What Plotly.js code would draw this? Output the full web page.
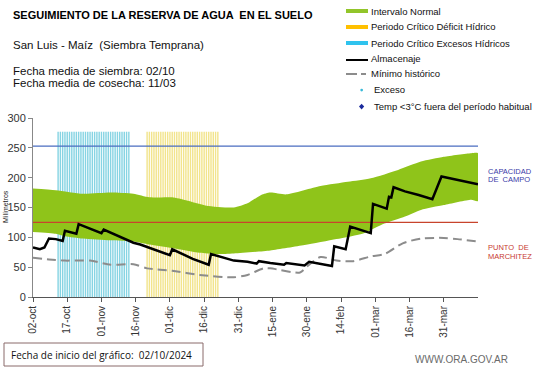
<!DOCTYPE html>
<html>
<head>
<meta charset="utf-8">
<script src="https://cdn.plot.ly/plotly-3.0.1.min.js"></script>
<style>html,body{margin:0;padding:0;background:#fff;}#chart{width:541px;height:368px;}</style>
</head>
<body>
<div id="chart"></div>
<script>
// ---------- DATA ----------
const tickDates = ['2024-10-02','2024-10-17','2024-11-01','2024-11-16','2024-12-01','2024-12-16','2024-12-31','2025-01-15','2025-01-30','2025-02-14','2025-03-01','2025-03-16','2025-03-31'];
const tickLabels = ['02-oct','17-oct','01-nov','16-nov','01-dic','16-dic','31-dic','15-ene','30-ene','14-feb','01-mar','16-mar','31-mar'];

const upperDates = ['2024-10-02','2024-10-12','2024-10-24','2024-11-05','2024-11-15','2024-11-22','2024-12-02','2024-12-08','2024-12-17','2024-12-29','2025-01-04','2025-01-10','2025-01-14','2025-01-21','2025-02-05','2025-02-17','2025-02-27','2025-03-11','2025-03-21','2025-03-31','2025-04-12','2025-04-15'];
const upperValues = [182,179,173,175,173,167,167,162,153,150,157,171,175,172,186,193,199,213,227,235,241,241];

const lowerDates = ['2024-10-02','2024-10-12','2024-10-16','2024-10-24','2024-11-05','2024-11-15','2024-11-22','2024-12-02','2024-12-14','2024-12-21','2024-12-29','2025-01-14','2025-01-29','2025-02-12','2025-02-24','2025-03-05','2025-03-14','2025-03-21','2025-03-31','2025-04-12','2025-04-15'];
const lowerValues = [109,106,102,98,95,93,88,82,74,72,73,78,87,97,107,123,135,146,154,163,161];

const storageDates = ['2024-10-02','2024-10-05','2024-10-07','2024-10-09','2024-10-12','2024-10-15','2024-10-16','2024-10-21','2024-10-22','2024-11-01','2024-11-02','2024-11-15','2024-11-18','2024-11-29','2024-12-01','2024-12-02','2024-12-11','2024-12-18','2024-12-19','2024-12-29','2025-01-04','2025-01-08','2025-01-09','2025-01-14','2025-01-20','2025-01-21','2025-01-29','2025-01-31','2025-02-10','2025-02-11','2025-02-16','2025-02-18','2025-02-27','2025-02-28','2025-03-06','2025-03-07','2025-03-08','2025-03-09','2025-03-14','2025-03-20','2025-03-26','2025-03-30','2025-04-15'];
const storageValues = [83,80,83,98,97,94,111,106,122,107,113,91,88,73,70,80,64,54,72,61,59,56,60,57,54,57,53,59,52,85,80,118,107,156,148,168,167,184,177,171,164,202,189];

const minHistDates = ['2024-10-02','2024-10-09','2024-10-16','2024-10-27','2024-11-05','2024-11-15','2024-11-21','2024-12-02','2024-12-14','2024-12-29','2025-01-04','2025-01-11','2025-01-14','2025-01-27','2025-01-30','2025-02-05','2025-02-12','2025-02-19','2025-02-27','2025-03-05','2025-03-13','2025-03-21','2025-03-31','2025-04-06','2025-04-15'];
const minHistValues = [66,63,61,61,54,55,48,44,37,33,37,48,48,41,51,67,61,60,68,72,90,98,99,97,93];

const fieldCapacity = 253;
const wiltingPoint = 125;
const criticalBarHeight = 277;
const excessPeriod = ['2024-10-13','2024-11-13'];
const deficitPeriod = ['2024-11-21','2024-12-22'];
const axisRange = ['2024-10-02','2025-04-15'];

// ---------- HELPERS ----------
function daysBetween(a, b){ return Math.round((Date.parse(b) - Date.parse(a)) / 86400000); }
function dayList(period){
  const out = [];
  const n = daysBetween(period[0], period[1]);
  for (let i = 0; i <= n; i++) out.push(new Date(Date.parse(period[0]) + i*86400000).toISOString().slice(0,10));
  return out;
}
const L = 33, R = 478, T = 118, B = 297;
const px = v => (v - L) / (R - L);
const py = v => (B - v) / (B - T);

const FONT = 'Liberation Sans, Arial, sans-serif';
const DAY = 86400000;

const excessDays = dayList(excessPeriod);
const deficitDays = dayList(deficitPeriod);

const traces = [
  { type:'bar', x: excessDays, y: excessDays.map(() => criticalBarHeight), width: 0.62*DAY,
    marker:{color:'#86d4e3', line:{width:0}}, hoverinfo:'skip' },
  { type:'bar', x: deficitDays, y: deficitDays.map(() => criticalBarHeight), width: 0.62*DAY,
    marker:{color:'#f2e48c', line:{width:0}}, hoverinfo:'skip' },
  { type:'scatter', mode:'lines', x: upperDates.concat(lowerDates.slice().reverse()),
    y: upperValues.concat(lowerValues.slice().reverse()), fill:'toself', fillcolor:'#8fc41a',
    line:{width:0, shape:'spline', smoothing:0.6}, hoverinfo:'skip' },
  { type:'scatter', mode:'lines', x: axisRange, y:[fieldCapacity, fieldCapacity], line:{color:'#4a6cc0', width:1.2} },
  { type:'scatter', mode:'lines', x: axisRange, y:[wiltingPoint, wiltingPoint], line:{color:'#c8442c', width:1.2} },
  { type:'scatter', mode:'lines', x: minHistDates, y: minHistValues,
    line:{color:'#8c8c8c', width:2, dash:'9px,5px', shape:'spline', smoothing:0.7} },
  { type:'scatter', mode:'lines', x: storageDates, y: storageValues, line:{color:'#000', width:2.5} }
];

const ann = [];
const shapes = [];
function text(t, x, y, size, opts){
  ann.push(Object.assign({text:t, xref:'paper', yref:'paper', x:px(x), y:py(y), xanchor:'left', yanchor:'middle',
    showarrow:false, font:{family:FONT, size:size, color:'#111'}}, opts||{}));
}
text('<b>SEGUIMIENTO DE LA RESERVA DE AGUA  EN EL SUELO</b>', 11, 15, 11, {font:{family:FONT, size:11, color:'#000'}});
text('San Luis - Maíz  (Siembra Temprana)', 11, 45, 11.5);
text('Fecha media de siembra: 02/10', 11, 71, 11.5);
text('Fecha media de cosecha: 11/03', 11, 83, 11.5);

// legend
const legX0 = 346, legX1 = 368, legTX = 369;
function legBar(y, color){
  shapes.push({type:'rect', xref:'paper', yref:'paper', x0:px(legX0), x1:px(legX1), y0:py(y-2), y1:py(y+2), fillcolor:color, line:{width:0}});
}
function legLine(xa, xb, y, color, w){
  shapes.push({type:'line', xref:'paper', yref:'paper', x0:px(xa), x1:px(xb), y0:py(y), y1:py(y), line:{color:color, width:w}});
}
legBar(11, '#92c52a'); text('Intervalo Normal', legTX, 11.5, 9.5);
legBar(27, '#ffc000'); text('Periodo Crítico Déficit Hídrico', legTX, 26.5, 9.5);
legBar(43, '#2fc3ee'); text('Periodo Crítico Excesos Hídricos', legTX, 43, 9.5);
legLine(legX0, legX1, 60, '#000', 2); text('Almacenaje', legTX, 58.3, 9.5);
legLine(legX0, 357, 74, '#8c8c8c', 2); legLine(361, 366, 74, '#8c8c8c', 2); text('Mínimo histórico', legTX, 73.3, 9.5);
shapes.push({type:'circle', xref:'paper', yref:'paper', x0:px(360.3), x1:px(363), y0:py(88.7), y1:py(91.4), fillcolor:'#37b9d8', line:{width:0}});
text('Exceso', 372, 90, 9.5);
shapes.push({type:'path', xref:'paper', yref:'paper',
  path:`M ${px(361.6)} ${py(103.8)} L ${px(364.2)} ${py(106.6)} L ${px(361.6)} ${py(109.4)} L ${px(359)} ${py(106.6)} Z`,
  fillcolor:'#1a2a9c', line:{width:0}});
text('Temp <3°C fuera del período habitual', 372, 106.5, 9.5);

// right labels
const capFont = {family:FONT, size:7.5, color:'#3a3aa8'};
const marFont = {family:FONT, size:7.5, color:'#c83a32'};
text('CAPACIDAD', 486, 171, 7.5, {font:capFont});
text('DE  CAMPO', 486, 179.5, 7.5, {font:capFont});
text('PUNTO  DE', 486, 247, 7.5, {font:marFont});
text('MARCHITEZ', 486, 256, 7.5, {font:marFont});

// y title
ann.push({text:'Milímetros', xref:'paper', yref:'paper', x:px(5), y:py(207), xanchor:'center', yanchor:'middle',
  textangle:-90, showarrow:false, font:{family:FONT, size:7, color:'#222'}});

// bottom box
shapes.push({type:'rect', xref:'paper', yref:'paper', x0:px(4), x1:px(203), y0:py(343), y1:py(366), line:{color:'#8a6a6a', width:1}, fillcolor:'rgba(0,0,0,0)'});
text('Fecha de inicio del gráfico:  02/10/2024', 9, 355, 10.5, {font:{family:'Open Sans, sans-serif', size:10, color:'#111'}});
text('WWW.ORA.GOV.AR', 413, 359, 10, {font:{family:FONT, size:10, color:'#6a6a6a'}});

const layout = {
  width:541, height:368,
  margin:{l:L, r:541-R, t:T, b:368-B, pad:0},
  paper_bgcolor:'#fff', plot_bgcolor:'#fff',
  showlegend:false, barmode:'overlay',
  font:{family:FONT, size:10, color:'#222'},
  xaxis:{type:'date', range:axisRange, tickvals:tickDates, ticktext:tickLabels, tickangle:-90,
    ticks:'outside', ticklen:4, tickcolor:'#555', showline:true, linecolor:'#555', linewidth:1,
    showgrid:false, zeroline:false, tickfont:{family:FONT, size:10, color:'#333'}, fixedrange:true},
  yaxis:{range:[0,300], tickvals:[0,50,100,150,200,250,300], ticks:'outside', ticklen:4, tickcolor:'#888',
    showline:true, linecolor:'#888', linewidth:1, showgrid:false, zeroline:false,
    tickfont:{family:FONT, size:11, color:'#333'}, fixedrange:true},
  annotations:ann, shapes:shapes
};
Plotly.newPlot('chart', traces, layout, {displayModeBar:false, staticPlot:true});
</script>
</body>
</html>
